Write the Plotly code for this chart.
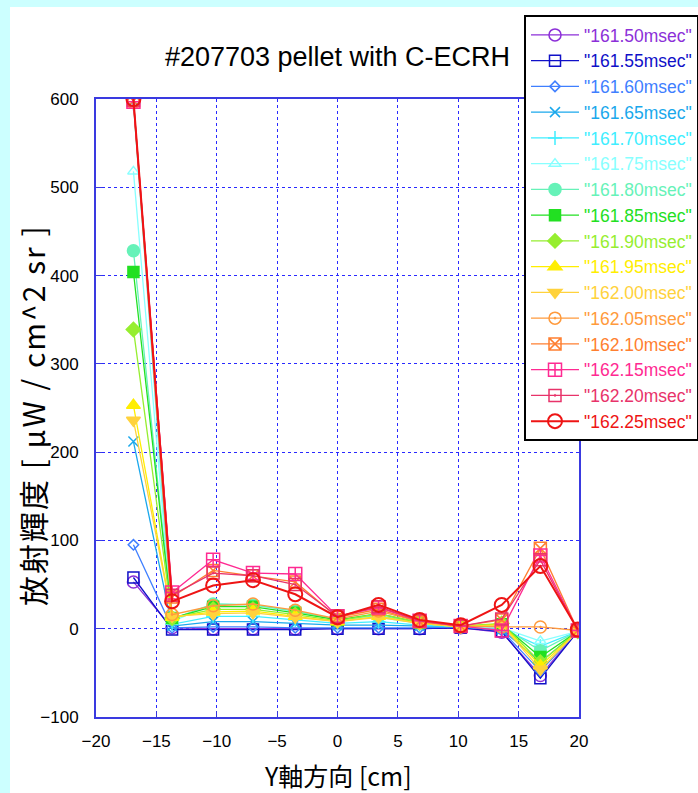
import plotly.graph_objects as go

# Chord positions along the Y axis [cm]
y_pos = [-16.9, -13.7, -10.3, -7.0, -3.5, 0.0, 3.4, 6.8, 10.2, 13.6, 16.8, 19.9]

# Time slices [msec]
times = ["161.50", "161.55", "161.60", "161.65", "161.70", "161.75", "161.80", "161.85",
         "161.90", "161.95", "162.00", "162.05", "162.10", "162.15", "162.20", "162.25"]

# Radiance profiles [uW / cm^2 sr], one list per time slice
r_16150 = [53, 1, 0, 0, 0, 0, 0, 0, 1, -4, -53, -3]
r_16155 = [58, -1, -1, -1, -1, 0, 0, 0, 1, -3, -56, -3]
r_16160 = [95, 1, 2, 2, 1, 1, 1, 1, 2, -2, -48, -3]
r_16165 = [212, 3, 8, 8, 6, 4, 4, 3, 2, -1, -38, -3]
r_16170 = [595, 5, 14, 14, 10, 6, 8, 4, 2, 0, -20, -3]
r_16175 = [518, 8, 28, 27, 20, 10, 13, 6, 2, 1, -14, -3]
r_16180 = [428, 11, 28, 27, 20, 10, 15, 6, 2, 3, -25, -3]
r_16185 = [404, 12, 25, 25, 18, 10, 17, 7, 3, 5, -32, -3]
r_16190 = [339, 12, 22, 22, 16, 9, 17, 7, 3, 6, -38, -3]
r_16195 = [253, 13, 19, 20, 14, 8, 14, 6, 2, 5, -42, -3]
r_16200 = [236, 14, 17, 18, 13, 8, 13, 6, 2, 4, -46, -3]
r_16205 = [596, 16, 26, 28, 21, 11, 20, 8, 3, 2, 2, -2]
r_16210 = [598, 36, 66, 60, 53, 13, 22, 8, 3, 10, 91, -2]
r_16215 = [597, 41, 78, 63, 62, 14, 24, 9, 3, -2, 83, -2]
r_16220 = [599, 38, 63, 60, 50, 14, 25, 9, 3, 11, 78, -2]
r_16225 = [600, 31, 49, 55, 39, 13, 27, 10, 4, 27, 71, -1]

profiles = [r_16150, r_16155, r_16160, r_16165, r_16170, r_16175, r_16180, r_16185,
            r_16190, r_16195, r_16200, r_16205, r_16210, r_16215, r_16220, r_16225]

colors = ["#8c2fd8", "#1010c8", "#3f7fff", "#1aa8ec", "#40eeff", "#88ffff", "#66f2b8", "#22e022",
          "#96ee30", "#ffee00", "#ffd23c", "#ff9a3c", "#ff7f30", "#ff2a92", "#e8336a", "#ee1414"]

symbols = ["circle-open", "square-open", "diamond-open", "x-thin-open", "cross-thin-open",
           "triangle-up-open", "circle", "square", "diamond", "triangle-up", "triangle-down",
           "circle-open-dot", "square-x-open", "square-cross-open", "square-open-dot", "circle-open"]

sizes = [12, 11, 8, 10, 10, 10, 12, 11, 11, 12, 12, 12, 12, 13, 12, 14]

fig = go.Figure()
for t, vals, c, s, sz in zip(times, profiles, colors, symbols, sizes):
    is_last = t == "162.25"
    fig.add_trace(go.Scatter(
        x=y_pos, y=vals, mode="lines+markers",
        name=f'<span style="color:{c}">"{t}msec"</span>',
        line=dict(color=c, width=2 if is_last else 1.3),
        marker=dict(symbol=s, size=sz, color=c,
                    line=dict(color=c, width=2 if is_last else 1.5)),
        legendgroup=t,
    ))

tick_font = dict(family="Liberation Sans, Arial, sans-serif", size=17, color="black")
axis_common = dict(
    showline=True, mirror=True, linecolor="#3a3ae0", linewidth=2,
    showgrid=True, gridcolor="#2a2aff", griddash="dot", gridwidth=1,
    ticks="inside", ticklen=6, tickcolor="#3a3ae0", tickwidth=1,
    zeroline=False, tickfont=tick_font,
)

fig.update_xaxes(range=[-20, 20], dtick=5, tick0=-20, ticklabelstandoff=8, **axis_common)
fig.update_yaxes(range=[-100, 600], dtick=100, tick0=-100, ticklabelstandoff=12, **axis_common)

fig.update_layout(
    width=698, height=793,
    margin=dict(l=96, r=119, t=99, b=76, autoexpand=False),
    paper_bgcolor="#ccffff", plot_bgcolor="white",
    title=dict(text="#207703 pellet with C-ECRH", x=0.5, xref="paper", xanchor="center",
               y=1 - 57 / 793, yanchor="middle",
               font=dict(family="Liberation Sans, Arial, sans-serif", size=27, color="black")),
    legend=dict(x=(524 - 96) / 483, y=1 + (99 - 15) / 618, xanchor="left", yanchor="top",
                bgcolor="white", bordercolor="black", borderwidth=2,
                font=dict(family="Liberation Sans, Arial, sans-serif", size=17.5),
                tracegroupgap=0, itemwidth=48, maxheight=700),
    shapes=[dict(type="rect", xref="paper", yref="paper", layer="below",
                 x0=(10 - 96) / 483, x1=(698 - 96) / 483 + 0.05,
                 y0=-(793 - 717) / 618 - 0.05, y1=(717 - 7) / 618,
                 fillcolor="white", line=dict(width=0))],
    annotations=[
        dict(text="Y軸方向 [cm]", xref="paper", yref="paper", x=0.5, y=-(775 - 717) / 618,
             xanchor="center", yanchor="middle", showarrow=False,
             font=dict(family="Noto Sans CJK JP", size=25, color="black")),
        dict(text='<span style="letter-spacing:2px">放射輝度 [ μW / cm^2 sr ]</span>',
             xref="paper", yref="paper",
             x=-(96 - 32) / 483, y=(717 - 415) / 618, textangle=-90,
             xanchor="center", yanchor="middle", showarrow=False,
             font=dict(family="Noto Sans CJK JP", size=30, color="black")),
    ],
)

fig.write_html("out.html")
